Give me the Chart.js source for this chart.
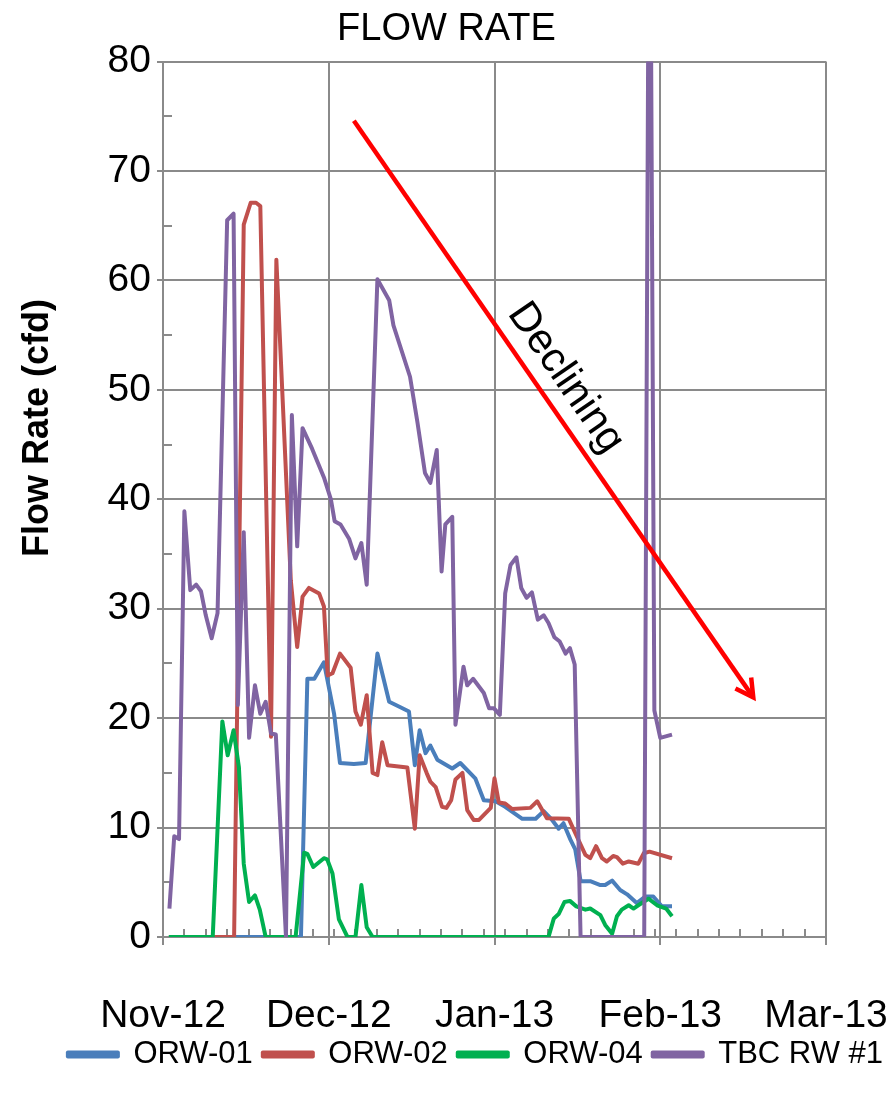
<!DOCTYPE html>
<html>
<head>
<meta charset="utf-8">
<script src="https://cdn.jsdelivr.net/npm/chart.js@4.4.1/dist/chart.umd.min.js"></script>
<style>
    html, body { margin: 0; padding: 0; background: #fff; }
</style>
</head>
<body>
<canvas id="flowChart" width="893" height="1096"></canvas>
<script>
// x values are days counted from 1 Nov 2012
const xTickDays = [0, 31, 62, 93, 124];
const xTickLabels = ['Nov-12', 'Dec-12', 'Jan-13', 'Feb-13', 'Mar-13'];
const seriesNames = ['ORW-01', 'ORW-02', 'ORW-04', 'TBC RW #1'];

const orw01Days = [1.1, 25.8, 27.0, 28.3, 30.1, 32.0, 33.1, 35.7, 37.9, 40.1, 42.3, 44.4, 46.0, 47.1, 48.0,
    49.1, 50.0, 51.3, 54.1, 55.6, 58.4, 60.0, 62.2, 64.0, 67.2, 69.7, 71.2, 72.6, 74.0, 74.9,
    76.2, 77.1, 78.1, 79.9, 81.8, 82.7, 84.0, 85.5, 86.8, 88.6, 90.2, 91.7, 93.3, 95.2];
const orw01Flow = [0, 0, 23.6, 23.6, 25.1, 20.4, 15.9, 15.8, 15.9, 25.9, 21.5, 21.0, 20.6, 15.7, 18.9,
    16.8, 17.5, 16.2, 15.4, 15.9, 14.5, 12.5, 12.4, 11.9, 10.8, 10.8, 11.5, 10.8, 9.9, 10.4,
    8.9, 8.0, 5.1, 5.1, 4.75, 4.75, 5.15, 4.3, 3.9, 3.1, 3.7, 3.7, 2.8, 2.8];

const orw02Days = [1.1, 13.3, 13.9, 15.1, 16.4, 17.4, 18.2, 20.2, 21.2, 23.9, 25.1, 26.1, 27.3, 29.2, 30.1,
    30.8, 31.7, 33.1, 35.1, 36.0, 37.0, 38.1, 39.2, 40.1, 41.0, 42.0, 45.7, 47.1, 48.0, 49.3,
    50.0, 51.0, 52.2, 53.0, 53.9, 54.7, 56.0, 56.9, 58.1, 59.1, 61.3, 62.0, 62.8, 64.0, 65.3,
    68.7, 70.0, 71.8, 75.9, 77.1, 79.0, 79.9, 81.0, 82.1, 83.0, 84.2, 84.9, 86.0, 87.1, 88.9,
    89.9, 91.0, 95.2];
const orw02Flow = [0, 0, 22, 65.1, 67.1, 67.1, 66.8, 18.3, 61.9, 32.6, 26.5, 31.1, 31.9, 31.4, 30.2,
    23.9, 24.1, 25.9, 24.6, 20.6, 19.4, 22.1, 15.0, 14.8, 17.8, 15.7, 15.5, 9.9, 16.6, 15.0,
    14.2, 13.7, 11.9, 11.8, 12.5, 14.4, 15.0, 11.6, 10.7, 10.7, 11.8, 14.5, 12.3, 12.2, 11.7,
    11.8, 12.4, 10.85, 10.8, 9.5, 7.5, 7.2, 8.3, 7.2, 6.9, 7.4, 7.3, 6.7, 6.9, 6.7,
    7.65, 7.8, 7.2];

const orw04Days = [1.1, 9.3, 11.1, 12.1, 13.2, 14.2, 15.1, 16.1, 17.2, 18.1, 19.2, 24.8, 26.4, 27.0, 28.1,
    30.1, 30.7, 31.7, 32.9, 34.5, 36.0, 37.1, 38.1, 39.2, 72.1, 73.1, 74.0, 75.1, 76.1, 77.3,
    79.0, 79.9, 81.8, 82.7, 84.0, 84.9, 85.8, 87.1, 88.0, 88.9, 90.8, 92.4, 94.1, 95.2];
const orw04Flow = [0, 0, 19.7, 16.6, 18.9, 15.5, 6.7, 3.2, 3.8, 2.5, 0, 0, 7.7, 7.6, 6.4,
    7.2, 7.1, 5.8, 1.6, 0, 0, 4.75, 0.9, 0, 0, 1.7, 2.1, 3.2, 3.3, 2.8,
    2.5, 2.6, 2.0, 1.1, 0.3, 1.9, 2.5, 2.9, 2.6, 2.9, 3.5, 2.9, 2.6, 1.9];

const tbcDays = [1.2, 2.1, 3.0, 4.0, 5.1, 6.2, 7.1, 8.0, 9.1, 10.2, 12.0, 13.2, 14.0, 15.1, 16.1,
    17.2, 18.2, 19.2, 20.2, 21.1, 23.0, 24.1, 25.1, 26.1, 27.9, 30.1, 31.4, 32.1, 33.2, 34.8,
    36.0, 37.1, 38.1, 40.1, 42.3, 43.1, 46.2, 47.6, 49.0, 50.0, 51.2, 52.1, 52.8, 54.1, 54.7,
    56.2, 56.9, 58.0, 60.0, 61.0, 61.9, 63.0, 64.0, 65.0, 66.1, 67.0, 68.0, 69.0, 70.1, 71.2,
    72.1, 73.2, 74.2, 75.3, 76.1, 77.0, 78.1, 90.0, 91.0, 91.9, 93.0, 95.2];
const tbcFlow = [2.6, 9.2, 8.95, 38.9, 31.7, 32.2, 31.6, 29.4, 27.3, 29.6, 65.5, 66.1, 21.2, 37.0, 18.2,
    23.0, 20.4, 21.5, 18.6, 18.5, 0, 47.7, 35.7, 46.5, 44.6, 42.0, 40.0, 38.0, 37.7, 36.4,
    34.6, 36.0, 32.2, 60.1, 58.2, 55.9, 51.2, 47.0, 42.4, 41.5, 44.5, 33.4, 37.7, 38.4, 19.4,
    24.7, 23.0, 23.6, 22.3, 20.9, 20.9, 20.3, 31.4, 34.0, 34.7, 31.9, 31.0, 31.5, 29.0, 29.4,
    28.7, 27.4, 27.0, 25.9, 26.4, 24.9, 0, 0, 110, 20.7, 18.2, 18.5];

// "Declining" arrow, in chart units (day, cfd)
const arrowFrom = [35.7, 74.6];
const arrowTo = [110.4, 21.9];
const arrowText = 'Declining';
const arrowTextAt = [75.3, 51.1];

const FONT = "'Liberation Sans', Arial, sans-serif";
const GRID = '#8a8a8a';

Chart.defaults.font.family = FONT;
Chart.defaults.color = '#000';

function toPoints(days, values) {
    return days.map((d, i) => ({ x: d, y: values[i] }));
}

function lineSet(label, days, values, color, order) {
    return {
        label: label,
        data: toPoints(days, values),
        borderColor: color,
        backgroundColor: color,
        borderWidth: 4,
        pointRadius: 0,
        tension: 0,
        fill: false,
        borderJoinStyle: 'round',
        order: order
    };
}

// minor tick marks (inside), y title, and the red arrow
const extrasPlugin = {
    id: 'extras',
    beforeDatasetsDraw(chart) {
        const { ctx, chartArea, scales: { x, y } } = chart;
        ctx.save();
        ctx.strokeStyle = GRID;
        ctx.lineWidth = 2;
        ctx.beginPath();
        for (let d = 4; d < 124; d += 4) {
            const px = Math.round(x.getPixelForValue(d));
            ctx.moveTo(px, chartArea.bottom);
            ctx.lineTo(px, chartArea.bottom - 8);
        }
        for (let v = 5; v < 80; v += 10) {
            const py = Math.round(y.getPixelForValue(v));
            ctx.moveTo(chartArea.left, py);
            ctx.lineTo(chartArea.left + 9, py);
        }
        ctx.stroke();
        ctx.restore();
    },
    afterDatasetsDraw(chart) {
        const { ctx, scales: { x, y } } = chart;
        const x1 = x.getPixelForValue(arrowFrom[0]), y1 = y.getPixelForValue(arrowFrom[1]);
        const x2 = x.getPixelForValue(arrowTo[0]), y2 = y.getPixelForValue(arrowTo[1]);
        const ang = Math.atan2(y2 - y1, x2 - x1);
        ctx.save();
        ctx.strokeStyle = '#ff0000';
        ctx.lineWidth = 4.5;
        ctx.beginPath();
        ctx.moveTo(x1, y1);
        ctx.lineTo(x2, y2);
        ctx.stroke();
        const head = 20, spread = 0.5;
        ctx.beginPath();
        ctx.moveTo(x2 - head * Math.cos(ang - spread), y2 - head * Math.sin(ang - spread));
        ctx.lineTo(x2, y2);
        ctx.lineTo(x2 - head * Math.cos(ang + spread), y2 - head * Math.sin(ang + spread));
        ctx.stroke();

        ctx.translate(x.getPixelForValue(arrowTextAt[0]), y.getPixelForValue(arrowTextAt[1]));
        ctx.rotate(ang);
        ctx.fillStyle = '#000';
        ctx.font = '42px ' + FONT;
        ctx.textAlign = 'center';
        ctx.textBaseline = 'middle';
        ctx.fillText(arrowText, 0, 0);
        ctx.restore();
    },
    afterDraw(chart) {
        const { ctx } = chart;
        ctx.save();
        ctx.translate(38, 428);
        ctx.rotate(-Math.PI / 2);
        ctx.font = 'bold 36px ' + FONT;
        ctx.fillStyle = '#000';
        ctx.textAlign = 'center';
        ctx.textBaseline = 'middle';
        ctx.fillText('Flow Rate (cfd)', 0, 0);
        ctx.restore();
    }
};

new Chart(document.getElementById('flowChart'), {
    type: 'line',
    data: {
        datasets: [
            lineSet(seriesNames[0], orw01Days, orw01Flow, '#4a7ebb', 3),
            lineSet(seriesNames[1], orw02Days, orw02Flow, '#c0504d', 2),
            lineSet(seriesNames[2], orw04Days, orw04Flow, '#00b050', 1),
            lineSet(seriesNames[3], tbcDays, tbcFlow, '#8064a2', 0)
        ]
    },
    options: {
        responsive: false,
        animation: false,
        layout: { padding: { left: 0, right: 0, top: 0, bottom: 16 } },
        plugins: {
            title: {
                display: true,
                text: 'FLOW RATE',
                color: '#000',
                font: { size: 38, weight: 'normal' },
                padding: { top: 7, bottom: 9 }
            },
            legend: {
                position: 'bottom',
                align: 'end',
                labels: {
                    boxWidth: 50,
                    boxHeight: 4,
                    padding: 10,
                    color: '#000',
                    font: { size: 31 },
                    sort: (a, b) => a.datasetIndex - b.datasetIndex
                }
            },
            tooltip: { enabled: false }
        },
        scales: {
            x: {
                type: 'linear',
                min: 0,
                max: 124,
                afterBuildTicks: (scale) => {
                    scale.ticks = xTickDays.map(v => ({ value: v }));
                },
                afterFit: (scale) => { scale.height = 92; },
                ticks: {
                    autoSkip: false,
                    maxRotation: 0,
                    padding: 4,
                    // tall line box pushes the labels down, as in the original
                    font: { size: 39, lineHeight: 3.46 },
                    callback: (value) => xTickLabels[xTickDays.indexOf(value)]
                },
                grid: { color: GRID, lineWidth: 2, tickLength: 8 },
                border: { color: GRID, width: 2 }
            },
            y: {
                min: 0,
                max: 80,
                afterFit: (scale) => { scale.width = 163; },
                ticks: { stepSize: 10, padding: 6, font: { size: 39 } },
                grid: { color: GRID, lineWidth: 2, tickLength: 6 },
                border: { color: GRID, width: 2 }
            },
            spacer: {
                type: 'linear',
                position: 'right',
                display: true,
                afterFit: (scale) => { scale.width = 67; },
                ticks: { display: false },
                grid: { display: false },
                border: { display: false }
            }
        }
    },
    plugins: [extrasPlugin]
});
</script>
</body>
</html>
